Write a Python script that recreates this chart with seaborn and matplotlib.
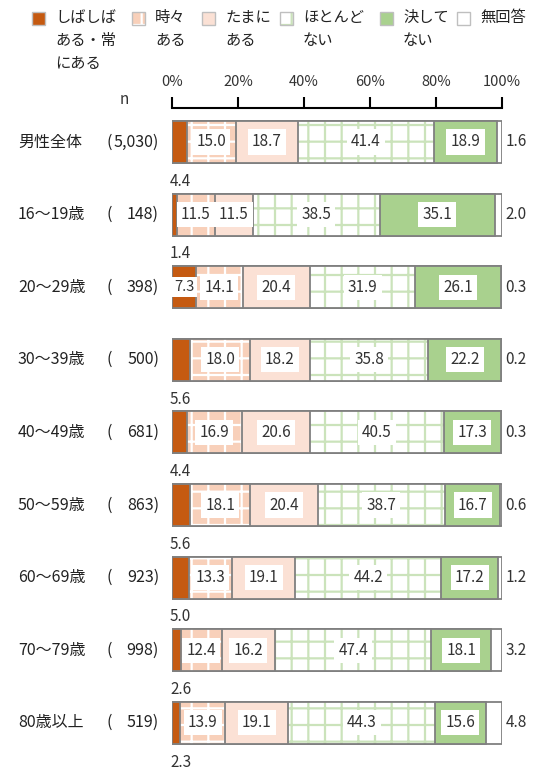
import matplotlib
matplotlib.use("Agg")
import matplotlib.pyplot as plt
import pandas as pd
import seaborn as sns
from matplotlib.patches import Rectangle
from matplotlib.transforms import blended_transform_factory

GROUPS = ["男性全体", "16〜19歳", "20〜29歳", "30〜39歳", "40〜49歳",
          "50〜59歳", "60〜69歳", "70〜79歳", "80歳以上"]
N_LABELS = ["5,030", "148", "398", "500", "681", "863", "923", "998", "519"]
LEGEND_LABELS = ["しばしば\nある・常\nにある", "時々\nある", "たまに\nある",
                 "ほとんど\nない", "決して\nない", "無回答"]

OFTEN = [4.4, 1.4, 7.3, 5.6, 4.4, 5.6, 5.0, 2.6, 2.3]
SOMETIMES = [15.0, 11.5, 14.1, 18.0, 16.9, 18.1, 13.3, 12.4, 13.9]
OCCASIONALLY = [18.7, 11.5, 20.4, 18.2, 20.6, 20.4, 19.1, 16.2, 19.1]
RARELY = [41.4, 38.5, 31.9, 35.8, 40.5, 38.7, 44.2, 47.4, 44.3]
NEVER = [18.9, 35.1, 26.1, 22.2, 17.3, 16.7, 17.2, 18.1, 15.6]
NO_ANSWER = [1.6, 2.0, 0.3, 0.2, 0.3, 0.6, 1.2, 3.2, 4.8]

SERIES = [OFTEN, SOMETIMES, OCCASIONALLY, RARELY, NEVER, NO_ANSWER]

# ── styles ───────────────────────────────────────────────────────────────────
EDGE = "#808080"
TXT = "#333333"
STYLES = [
    dict(color="#C55A11"),
    dict(color="#F8D0BA", hatch="+", hatch_color="white"),
    dict(color="#FBE1D5"),
    dict(color="white", hatch="+", hatch_color="#CBE3BB"),
    dict(color="#A9D18E"),
    dict(color="white"),
]
BAR_W = 0.58
W, H = 540, 770


def fx(px):
    return px / W


def fy(py):
    return 1 - py / H


sns.set_theme(style="white")
plt.rcParams["font.family"] = ["Noto Sans CJK JP", "DejaVu Sans"]
plt.rcParams["hatch.linewidth"] = 1.6

# cumulative ends, used to overlay bars from longest to shortest
df = pd.DataFrame({"group": GROUPS})
cum = pd.Series([0.0] * len(GROUPS))
cum_cols = []
for k, vals in enumerate(SERIES):
    cum = cum + pd.Series(vals)
    df[f"c{k}"] = cum.round(1)
    cum_cols.append(f"c{k}")

fig = plt.figure(figsize=(W / 100, H / 100), dpi=100)
ax = fig.add_axes([fx(172), 0, fx(502) - fx(172), (H - 108) / H])


def draw_segment(col, style):
    common = dict(data=df, x=col, y="group", order=GROUPS, orient="h",
                  width=BAR_W, errorbar=None, saturation=1, ax=ax)
    if style.get("hatch"):
        sns.barplot(**common, color=style["color"], edgecolor=style["hatch_color"],
                    linewidth=0, hatch=style["hatch"])
        sns.barplot(**common, color=EDGE, fill=False, linewidth=1.3)
    else:
        sns.barplot(**common, color=style["color"], edgecolor=EDGE, linewidth=1.3)


for col, style in reversed(list(zip(cum_cols, STYLES))):
    draw_segment(col, style)

# ── value labels ─────────────────────────────────────────────────────────────
box = dict(facecolor="white", edgecolor="none", pad=3)
for i in range(len(GROUPS)):
    left = 0.0
    for k, vals in enumerate(SERIES):
        v = vals[i]
        mid = left + v / 2
        if k == 0:
            if v >= 7:
                ax.text(mid, i, f"{v:.1f}", ha="center", va="center", fontsize=10.5,
                        color=TXT, bbox=dict(facecolor="white", edgecolor="none", pad=2))
            else:
                ax.text(-0.6, i + 0.54, f"{v:.1f}", ha="left", va="center",
                        fontsize=11, color=TXT)
        elif k == 5:
            ax.text(101, i, f"{v:.1f}", ha="left", va="center", fontsize=11, color=TXT)
        else:
            ax.text(mid, i, f"{v:.1f}", ha="center", va="center", fontsize=11,
                    color=TXT, bbox=box)
        left += v

# ── axes ─────────────────────────────────────────────────────────────────────
ax.set_xlim(0, 100)
ax.set_ylim((H - 142) / 72.6, (108 - 142) / 72.6)
ax.xaxis.tick_top()
ticks = [0, 20, 40, 60, 80, 100]
ax.set_xticks(ticks, labels=[f"{t}%" for t in ticks])
ax.tick_params(axis="x", top=True, bottom=False, labeltop=True, labelbottom=False,
               direction="out", length=8, width=1.5, pad=6, labelsize=10.5,
               labelcolor=TXT, color="black")
ax.tick_params(axis="y", left=False, labelleft=False)
for s in ["left", "right", "bottom"]:
    ax.spines[s].set_visible(False)
ax.spines["top"].set_linewidth(1.5)
ax.spines["top"].set_color("black")
ax.set_xlabel("")
ax.set_ylabel("")

# ── row labels ───────────────────────────────────────────────────────────────
trans = blended_transform_factory(fig.transFigure, ax.transData)
for i, (g, n) in enumerate(zip(GROUPS, N_LABELS)):
    ax.text(fx(18), i, g, transform=trans, ha="left", va="center", fontsize=11.5,
            color="#222222")
    ax.text(fx(107), i, "(", transform=trans, ha="left", va="center", fontsize=11.5,
            color="#222222")
    ax.text(fx(159), i, f"{n})", transform=trans, ha="right", va="center",
            fontsize=11.5, color="#222222")
fig.text(fx(124), fy(100), "n", ha="center", va="center", fontsize=11, color=TXT)

# ── legend ───────────────────────────────────────────────────────────────────
LEG_X = [32, 132, 202, 280, 380, 457]
SQ = 13
for x, lab, style in zip(LEG_X, LEGEND_LABELS, STYLES):
    if style.get("hatch"):
        fig.add_artist(Rectangle((fx(x), fy(12 + SQ)), SQ / W, SQ / H,
                                 transform=fig.transFigure, facecolor=style["color"],
                                 edgecolor=style["hatch_color"], linewidth=0,
                                 hatch=style["hatch"]))
        fig.add_artist(Rectangle((fx(x), fy(12 + SQ)), SQ / W, SQ / H,
                                 transform=fig.transFigure, facecolor="none",
                                 edgecolor="#BFBFBF", linewidth=1))
    else:
        fig.add_artist(Rectangle((fx(x), fy(12 + SQ)), SQ / W, SQ / H,
                                 transform=fig.transFigure, facecolor=style["color"],
                                 edgecolor="#BFBFBF", linewidth=1))
    fig.text(fx(x + 23), fy(9), lab, ha="left", va="top", fontsize=11,
             linespacing=1.45, color="#222222")

fig.savefig("out.png", dpi=100)
